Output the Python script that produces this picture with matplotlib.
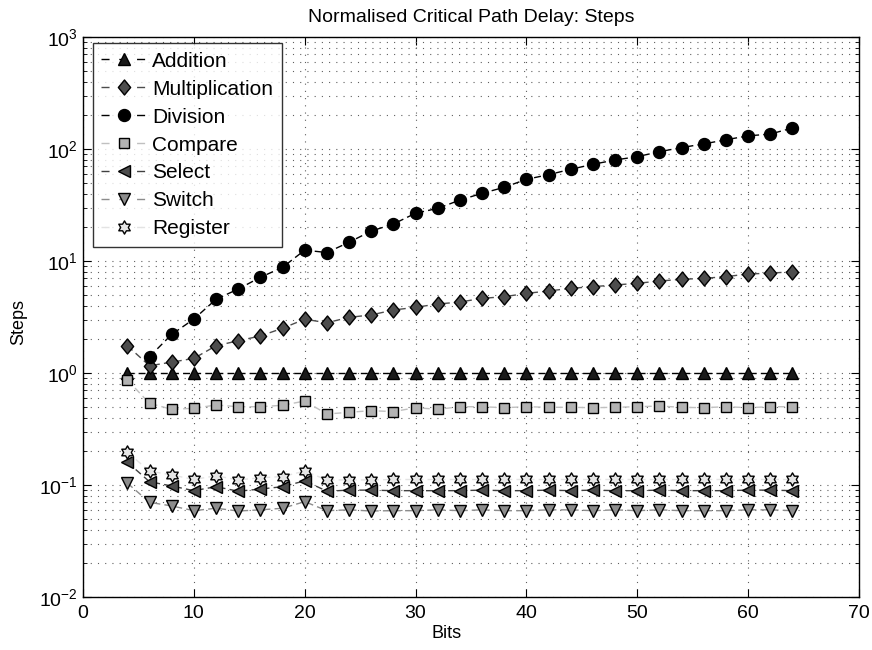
import numpy as np
import matplotlib
matplotlib.use("Agg")
import matplotlib.pyplot as plt
from matplotlib.path import Path
from matplotlib.ticker import LogLocator, NullFormatter, FixedLocator

plt.rcParams['font.family'] = ['Liberation Sans', 'DejaVu Sans']
plt.rcParams['mathtext.fontset'] = 'custom'
plt.rcParams['mathtext.rm'] = 'Liberation Sans'
plt.rcParams['mathtext.it'] = 'Liberation Sans:italic'
plt.rcParams['mathtext.bf'] = 'Liberation Sans:bold'

bits = [4, 6, 8, 10, 12, 14, 16, 18, 20, 22, 24, 26, 28, 30, 32, 34, 36, 38, 40,
        42, 44, 46, 48, 50, 52, 54, 56, 58, 60, 62, 64]

addition = [1.0] * 31
multiplication = [1.75, 1.16, 1.25, 1.35, 1.75, 1.94, 2.14, 2.51, 3.02, 2.81, 3.14,
                  3.30, 3.65, 3.86, 4.13, 4.30, 4.64, 4.80, 5.14, 5.40, 5.70, 5.90,
                  6.11, 6.32, 6.63, 6.86, 7.00, 7.25, 7.66, 7.78, 8.03]
division_bits = bits[1:]
division = [1.40, 2.21, 3.03, 4.55, 5.62, 7.15, 8.78, 12.5, 11.9, 14.7, 18.5, 21.4,
            26.7, 29.5, 35.0, 40.2, 45.5, 53.6, 59.0, 65.9, 73.0, 79.8, 85.4, 94.6,
            103, 111, 121, 131, 136, 154]
compare = [0.866, 0.536, 0.474, 0.484, 0.518, 0.50, 0.50, 0.515, 0.562, 0.43, 0.446,
           0.461, 0.452, 0.49, 0.474, 0.50, 0.50, 0.49, 0.50, 0.494, 0.494, 0.49,
           0.494, 0.50, 0.507, 0.494, 0.49, 0.50, 0.49, 0.50, 0.50]
select = [0.160, 0.107, 0.098, 0.089, 0.0966, 0.088, 0.092, 0.0966, 0.109, 0.088,
          0.090, 0.090, 0.089, 0.089, 0.089, 0.089, 0.090, 0.089, 0.089, 0.090,
          0.089, 0.090, 0.089, 0.089, 0.090, 0.089, 0.089, 0.089, 0.090, 0.090, 0.089]
switch = [0.104, 0.070, 0.065, 0.059, 0.062, 0.0586, 0.060, 0.062, 0.071, 0.059,
          0.060, 0.0586, 0.059, 0.059, 0.060, 0.059, 0.060, 0.059, 0.059, 0.060,
          0.060, 0.059, 0.060, 0.059, 0.060, 0.059, 0.059, 0.059, 0.060, 0.060, 0.059]
register = [0.196, 0.133, 0.123, 0.112, 0.121, 0.111, 0.116, 0.119, 0.133, 0.111,
            0.111, 0.111, 0.112, 0.112, 0.112, 0.112, 0.112, 0.112, 0.112, 0.112,
            0.112, 0.112, 0.112, 0.112, 0.112, 0.112, 0.112, 0.112, 0.112, 0.112, 0.112]

labels = ['Addition', 'Multiplication', 'Division', 'Compare', 'Select', 'Switch', 'Register']

# hexagram marker (MATLAB 'h')
ang = np.deg2rad(np.arange(0, 360, 30) + 90)
rad = np.array([1.0 if i % 2 == 0 else 1 / np.sqrt(3) for i in range(12)])
verts = np.column_stack([rad * np.cos(ang), rad * np.sin(ang)])
verts = np.vstack([verts, verts[0]])
hexagram = Path(verts, [Path.MOVETO] + [Path.LINETO] * 11 + [Path.CLOSEPOLY])

# MATLAB-like diamond (slightly taller than wide)
dverts = np.array([[0, 1], [0.82, 0], [0, -1], [-0.82, 0], [0, 1]])
diamond = Path(dverts, [Path.MOVETO] + [Path.LINETO] * 3 + [Path.CLOSEPOLY])

series = [
    (bits, addition, '^', '#000000', '#1a1a1a', 8.5),
    (bits, multiplication, diamond, '#4d4d4d', '#4d4d4d', 10.8),
    (division_bits, division, 'o', '#000000', '#000000', 8.6),
    (bits, compare, 's', '#c0c0c0', '#b3b3b3', 7.5),
    (bits, select, '<', '#404040', '#4d4d4d', 8.5),
    (bits, switch, 'v', '#8c8c8c', '#8c8c8c', 8.5),
    (bits, register, hexagram, '#e3e3e3', '#e6e6e6', 9.5),
]

fig = plt.figure(figsize=(8.72, 6.5), dpi=100)
ax = fig.add_axes([83 / 872, 53 / 650, 776 / 872, 560 / 650])

for (xs, ys, mk, lc, fc, ms), lab in zip(series, labels):
    ax.plot(xs, ys, linestyle='--', color=lc, linewidth=1.0, marker=mk,
            markersize=ms, markerfacecolor=fc, markeredgecolor='black',
            markeredgewidth=1.0, label=lab, dashes=(5, 3))

ax.set_yscale('log')
ax.set_xlim(0, 70)
ax.set_ylim(1e-2, 1e3)
ax.set_xticks(np.arange(0, 71, 10))
ax.yaxis.set_major_locator(FixedLocator([1e-2, 1e-1, 1e0, 1e1, 1e2, 1e3]))
ax.yaxis.set_minor_locator(LogLocator(base=10, subs=np.arange(2, 10), numticks=20))
ax.yaxis.set_minor_formatter(NullFormatter())

gstyle = dict(linestyle=(0, (1, 5.5)), color='#606060', linewidth=0.8)
ax.grid(True, which='major', axis='both', **gstyle)
ax.grid(True, which='minor', axis='y', **gstyle)
ax.set_axisbelow(True)

ax.tick_params(which='both', direction='in', top=True, right=True, labelsize=14)
ax.tick_params(which='major', length=6, width=0.8)
ax.tick_params(axis='x', which='major', pad=6)
ax.tick_params(which='minor', length=3, width=0.6)
for s in ax.spines.values():
    s.set_linewidth(1.0)

ax.set_title('Normalised Critical Path Delay: Steps', fontsize=14, pad=11)
ax.set_xlabel('Bits', fontsize=13)
ax.set_ylabel('Steps', fontsize=13)
ax.xaxis.set_label_coords((447 - 83) / 776, (597 - 625) / 560)
ax.yaxis.set_label_coords((27 - 83) / 776, (597 - 322) / 560)

leg = ax.legend(loc='upper left', bbox_to_anchor=(9.7 / 776, 1 - 6.3 / 560),
                borderaxespad=0, fontsize=15, frameon=True, fancybox=False,
                edgecolor='black', handlelength=2.16, labelspacing=0.43,
                handletextpad=0.3, borderpad=0.4)
leg.get_frame().set_linewidth(1.0)
for ln in leg.get_lines():
    ln.set_dashes((5.8, 7.0))

fig.savefig('out.png', dpi=100)
